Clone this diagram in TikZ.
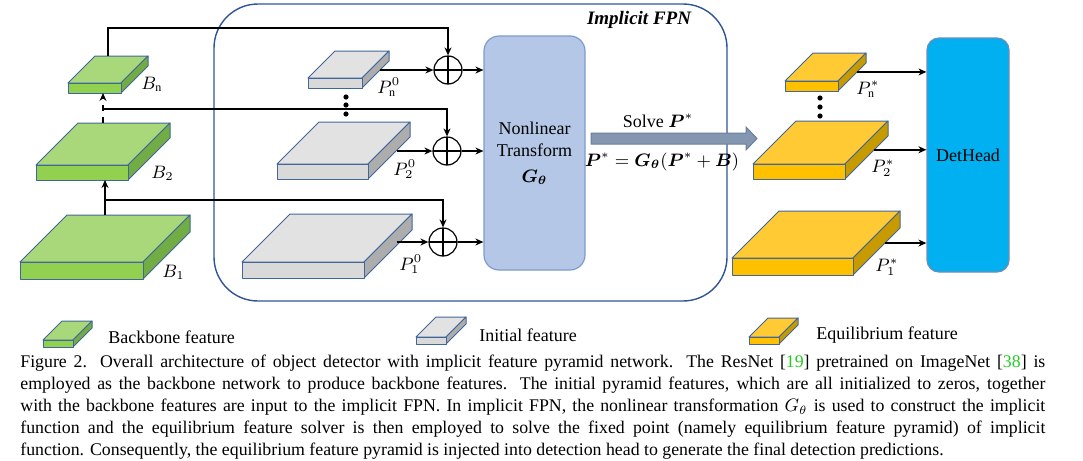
\documentclass[tikz,border=0pt]{standalone}
\usepackage{fontspec}
\setmainfont{Liberation Serif}
\usepackage{bm}
\usetikzlibrary{arrows.meta}

\definecolor{boxedge}{HTML}{41679A}
\definecolor{greentop}{HTML}{A9D87A}
\definecolor{greenfront}{HTML}{92D050}
\definecolor{greenside}{HTML}{72AC45}
\definecolor{graytop}{HTML}{E2E2E2}
\definecolor{grayfront}{HTML}{D9D9D9}
\definecolor{grayside}{HTML}{ADADAD}
\definecolor{goldtop}{HTML}{FFCA33}
\definecolor{goldfront}{HTML}{FFC000}
\definecolor{goldside}{HTML}{C79A00}
\definecolor{nlfill}{HTML}{B4C7E7}
\definecolor{nledge}{HTML}{7F9BCB}
\definecolor{detfill}{HTML}{00B0F0}
\definecolor{detedge}{HTML}{6F8CB8}
\definecolor{solvefill}{HTML}{8497B0}
\definecolor{solveedge}{HTML}{6A7F9C}
\definecolor{fpnedge}{HTML}{2F5597}
\definecolor{citegreen}{HTML}{22CC22}

% cuboid: name, colour prefix, x1, y1, x2, y2 (front face), depth
\newcommand{\featbox}[7]{%
  \filldraw[boxline, fill=#2top] (#3,#4) -- ++(#7,-#7) -- ({#5+#7},{#4-#7}) -- (#5,#4) -- cycle;
  \filldraw[boxline, fill=#2side] (#5,#4) -- ++(#7,-#7) -- ++(0,{#6-#4}) -- (#5,#6) -- cycle;
  \filldraw[boxline, fill=#2front] (#3,#4) rectangle (#5,#6);
  \coordinate (#1-back) at ({(#3+#5)/2+#7/2},{#4-#7});
  \coordinate (#1-bot) at ({(#3+#5)/2},#6);
  \coordinate (#1-side) at ({#5+0.68*#7},{#6-0.68*#7});
}

\tikzset{
  boxline/.style={draw=boxedge, line width=0.5pt, line join=round},
  lab/.style={anchor=west, inner sep=0pt, font=\fontsize{9}{11}\selectfont},
  link/.style={line width=0.9pt, ->},
  plus/.style={circle, draw, line width=0.6pt, minimum size=14pt, inner sep=0pt,
    path picture={\draw[line width=0.6pt]
      (path picture bounding box.north) -- (path picture bounding box.south)
      (path picture bounding box.west) -- (path picture bounding box.east);}},
  nlbox/.style={draw=nledge, fill=nlfill, line width=0.6pt, rounded corners=7.5pt,
    minimum width=50.5pt, minimum height=117pt, align=center,
    font=\fontsize{9}{11}\selectfont},
  detbox/.style={draw=detedge, fill=detfill, line width=0.6pt, rounded corners=6pt,
    minimum width=41pt, minimum height=117pt, font=\fontsize{9}{11}\selectfont},
}

\begin{document}
\begin{tikzpicture}[x=0.5pt, y=-0.5pt, >={Stealth[length=4pt,width=3.5pt]}]
\useasboundingbox (0,0) rectangle (1083,461);

% implicit FPN frame
\draw[draw=fpnedge, line width=0.7pt, rounded corners=22pt] (214,4) rectangle (727,301);
\node[font=\fontsize{9.5}{11}\selectfont\bfseries\itshape] (fpnlabel) at (639,20) {Implicit FPN};

% backbone features
\featbox{b1}{green}{20}{262}{143}{279}{47}
\featbox{b2}{green}{36}{165}{128}{180}{42}
\featbox{bn}{green}{68}{83}{121}{93}{27}
\node[lab] (lb1) at (162,272) {$B_1$};
\node[lab] (lb2) at (151,173) {$B_2$};
\node[lab] (lbn) at (141,84) {$B_{\mathrm{n}}$};

% initial features
\featbox{p10}{gray}{242}{262}{364}{278}{48}
\featbox{p20}{gray}{277}{164}{368}{179}{42}
\featbox{pn0}{gray}{308}{78}{362}{88}{27}
\node[lab] (lp10) at (399,264) {$P^0_1$};
\node[lab] (lp20) at (393,169) {$P^0_2$};
\node[lab] (lpn0) at (377,87) {$P^0_{\mathrm{n}}$};
\foreach \y in {97,105,114} \fill (346,\y) circle (1.3pt);

% equilibrium features
\featbox{p1s}{gold}{732}{258}{853}{275}{47}
\featbox{p2s}{gold}{753}{164}{845}{179}{43}
\featbox{pns}{gold}{785}{81}{838}{91}{28}
\node[lab] (lp1s) at (875,267) {$P^*_1$};
\node[lab] (lp2s) at (871,168) {$P^*_2$};
\node[lab] (lpns) at (856,89) {$P^*_{\mathrm{n}}$};
\foreach \y in {98,107,116} \fill (820,\y) circle (1.3pt);

% sums, transform and head
\node[plus] (plus1) at (443,242) {};
\node[plus] (plus2) at (447,151) {};
\node[plus] (plusn) at (448,70) {};
\node[nlbox] (nl) at (534.5,153) {Nonlinear\\Transform\\[2pt]$\bm{G_\theta}$};
\node[detbox] (det) at (968,155) {DetHead};

% backbone links
\draw[link] (b1-back) -- (b1-back |- b2-bot);
\draw[link, dashed] (b2-back) -- (b2-back |- bn-bot);
\path (b1-back) ++(0,-15) coordinate (j1);
\path (b2-back) ++(0,-14) coordinate (j2);
\draw[link] (j1) -| (plus1);
\draw[link] (j2) -| (plus2);
\draw[link] (bn-back) -- ++(0,-28) -| (plusn);

% into the sums and the transform
\draw[link] (p10-side |- plus1) -- (plus1);
\draw[link] (p20-side |- plus2) -- (plus2);
\draw[link] (pn0-side |- plusn) -- (plusn);
\draw[link] (plus1) -- (plus1 -| nl.west);
\draw[link] (plus2) -- (plus2 -| nl.west);
\draw[link] (plusn) -- (plusn -| nl.west);

% solver arrow
\filldraw[fill=solvefill, draw=solveedge, line width=0.5pt]
  (591,133) -- (746,133) -- (746,127) -- (757,138.5) -- (746,150) -- (746,144) -- (591,144) -- cycle;
\node[font=\fontsize{9}{11}\selectfont] (solve) at (658,121) {Solve $\bm{P}^*$};
\node[font=\fontsize{9}{11}\selectfont] (fixpt) at (662,162) {$\bm{P}^* = \bm{G}_{\bm{\theta}}(\bm{P}^* + \bm{B})$};

% into the head
\draw[link] (p1s-side) -- (p1s-side -| det.west);
\draw[link] (p2s-side) -- (p2s-side -| det.west);
\draw[link] (pns-side) -- (pns-side -| det.west);

% legend
\featbox{lg1}{green}{43}{340}{73}{347}{19}
\featbox{lg2}{gray}{416}{337}{446}{344}{20}
\featbox{lg3}{gold}{749}{337}{779}{344}{19}
\node[lab] (leg1) at (108,337) {Backbone feature};
\node[lab] (leg2) at (479,335) {Initial feature};
\node[lab] (leg3) at (816,335) {Equilibrium feature};

% caption
\node[anchor=north west, inner sep=0pt, text width=512.5pt, align=justify,
  font=\fontsize{8.9}{11}\selectfont] (caption) at (20,355) {\hyphenpenalty=10000\exhyphenpenalty=10000
  Figure 2. Overall architecture of object detector with implicit feature pyramid network.  The ResNet [\textcolor{citegreen}{19}] pretrained on ImageNet [\textcolor{citegreen}{38}] is\linebreak
  employed as the backbone network to produce backbone features. The initial pyramid features, which are all initialized to zeros, together\linebreak
  with the backbone features are input to the implicit FPN. In implicit FPN, the nonlinear transformation $G_\theta$ is used to construct the implicit\linebreak
  function and the equilibrium feature solver is then employed to solve the fixed point (namely equilibrium feature pyramid) of implicit\linebreak
  function. Consequently, the equilibrium feature pyramid is injected into detection head to generate the final detection predictions.};
\end{tikzpicture}
\end{document}
